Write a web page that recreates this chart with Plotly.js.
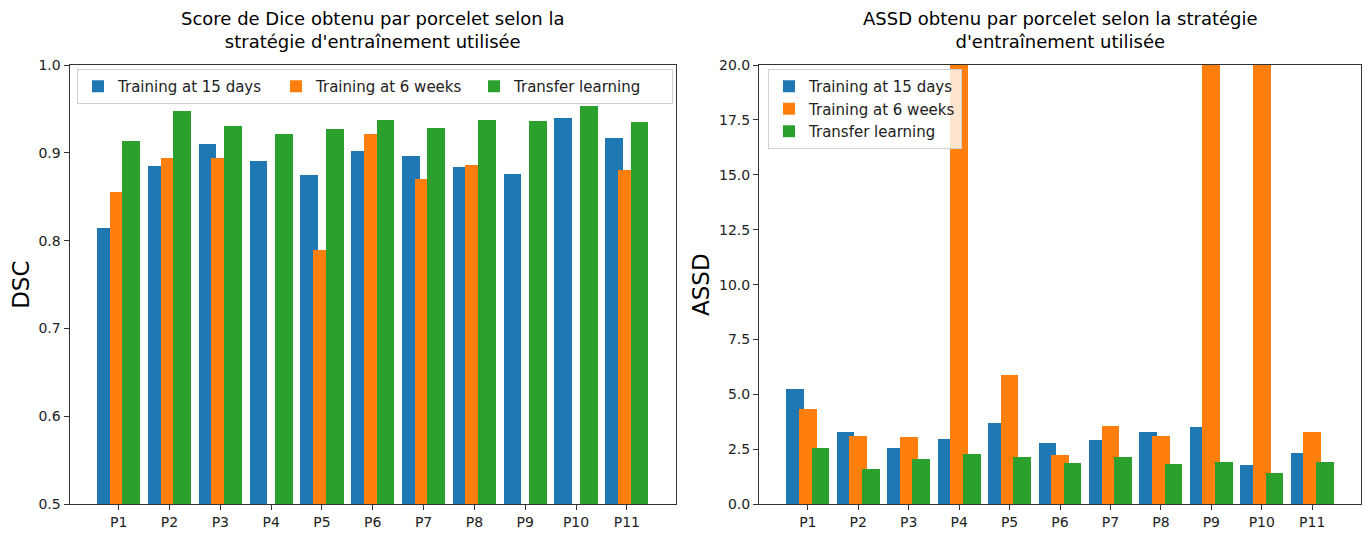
<!DOCTYPE html>
<html>
<head>
<meta charset="utf-8">
<script src="https://cdn.plot.ly/plotly-3.0.1.min.js"></script>
<style>html,body{margin:0;padding:0;background:#fff;} #chart{width:1370px;height:534px;}</style>
</head>
<body>
<div id="chart"></div>
<script>
// ---- data ----
const categories = ["P1","P2","P3","P4","P5","P6","P7","P8","P9","P10","P11"];
const seriesNames = ["Training at 15 days","Training at 6 weeks","Transfer learning"];
// DSC (left chart); null = below the visible range (not readable)
const dsc15days  = [0.815,0.885,0.910,0.891,0.875,0.902,0.897,0.884,0.876,0.940,0.917];
const dsc6weeks  = [0.856,0.894,0.894,null,0.789,0.922,0.870,0.886,null,null,0.881];
const dscTransfer= [0.913,0.948,0.931,0.921,0.927,0.937,0.928,0.937,0.936,0.953,0.935];
// ASSD (right chart); values above 20 are cut by the axis (estimated)
const assd15days  = [5.23,3.30,2.55,2.99,3.69,2.80,2.94,3.28,3.52,1.77,2.32];
const assd6weeks  = [4.35,3.12,3.08,30,5.89,2.24,3.58,3.11,30,30,3.29];
const assdTransfer= [2.55,1.61,2.05,2.28,2.15,1.87,2.14,1.83,1.91,1.41,1.91];

const titles = ["Score de Dice obtenu par porcelet selon la<br>stratégie d'entraînement utilisée",
                "ASSD obtenu par porcelet selon la stratégie<br>d'entraînement utilisée"];
const yTitles = ["DSC","ASSD"];
const colors = ["#1f77b4","#ff7f0e","#2ca02c"];

// ---- layout helpers ----
const W = 1370, H = 534;
const px = v => v / W;
const py = v => 1 - v / H;
const FONT = "DejaVu Sans";
const barWidth = 0.35;
const offsets = [-0.25, 0, 0.25];

const leftSeries = [dsc15days, dsc6weeks, dscTransfer];
const rightSeries = [assd15days, assd6weeks, assdTransfer];

const traces = [];
leftSeries.forEach((vals, i) => {
  traces.push({type:'bar', x:categories, y:vals, name:seriesNames[i], xaxis:'x', yaxis:'y',
    width:barWidth, offset:offsets[i]-barWidth/2, marker:{color:colors[i], line:{width:0}},
    legend:'legend', showlegend:true, hoverinfo:'skip'});
});
rightSeries.forEach((vals, i) => {
  traces.push({type:'bar', x:categories, y:vals, name:seriesNames[i], xaxis:'x2', yaxis:'y2',
    width:barWidth, offset:offsets[i]-barWidth/2, marker:{color:colors[i], line:{width:0}},
    legend:'legend2', showlegend:true, hoverinfo:'skip'});
});

const axisCommon = {
  showline:true, mirror:true, linecolor:'#333', linewidth:1,
  ticks:'outside', ticklen:5, tickwidth:1, tickcolor:'#333',
  showgrid:false, zeroline:false,
  tickfont:{family:FONT, size:14, color:'#222'}
};
const xr = [-0.9675, 10.9675];

const layout = {
  width:W, height:H, margin:{l:0,r:0,t:0,b:0},
  paper_bgcolor:'#fff', plot_bgcolor:'#fff',
  barmode:'overlay', bargap:0,
  font:{family:FONT, color:'#222'},
  xaxis: Object.assign({}, axisCommon, {domain:[px(69.5), px(676)], anchor:'y', type:'category', range:xr}),
  yaxis: Object.assign({}, axisCommon, {domain:[py(504.3), py(65)], anchor:'x', range:[0.5,1.0], dtick:0.1, tick0:0.5, tickformat:'.1f',
    title:{text:yTitles[0], font:{family:FONT, size:23, color:'#000'}, standoff:2}}),
  xaxis2: Object.assign({}, axisCommon, {domain:[px(759), px(1361)], anchor:'y2', type:'category', range:xr}),
  yaxis2: Object.assign({}, axisCommon, {domain:[py(504.3), py(65)], anchor:'x2', range:[0,20], dtick:2.5, tick0:0, tickformat:'.1f',
    title:{text:yTitles[1], font:{family:FONT, size:23, color:'#000'}, standoff:2}}),
  legend:{orientation:'h', x:px(77), y:py(69), xanchor:'left', yanchor:'top',
    bgcolor:'rgba(255,255,255,0.8)', bordercolor:'#d0d0d0', borderwidth:1,
    entrywidth:153, entrywidthmode:'pixels',
    font:{family:FONT, size:15, color:'#222'}, traceorder:'normal'},
  legend2:{orientation:'v', x:px(768), y:py(69), xanchor:'left', yanchor:'top',
    bgcolor:'rgba(255,255,255,0.8)', bordercolor:'#d0d0d0', borderwidth:1,
    font:{family:FONT, size:15, color:'#222'}, traceorder:'normal'},
  annotations:[
    {text:titles[0], xref:'paper', yref:'paper', x:px((69.5+676)/2), y:py(54), xanchor:'center', yanchor:'bottom',
      showarrow:false, font:{family:FONT, size:18, color:'#000'}},
    {text:titles[1], xref:'paper', yref:'paper', x:px((759+1361)/2), y:py(54), xanchor:'center', yanchor:'bottom',
      showarrow:false, font:{family:FONT, size:18, color:'#000'}}
  ]
};

Plotly.newPlot('chart', traces, layout, {staticPlot:true, displayModeBar:false});
</script>
</body>
</html>
